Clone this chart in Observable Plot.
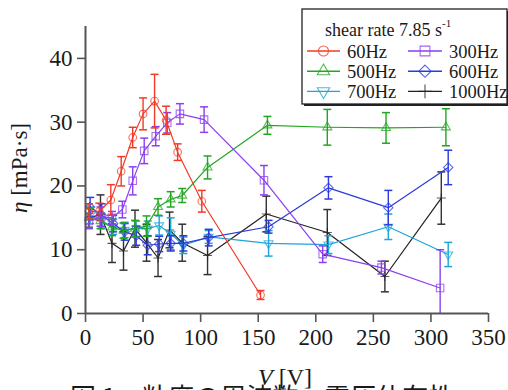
<!DOCTYPE html>
<html><head><meta charset="utf-8">
<script src="https://cdn.jsdelivr.net/npm/d3@7"></script>
<script src="https://cdn.jsdelivr.net/npm/@observablehq/plot@0.6"></script>
<style>
body{margin:0;background:#fff;}
#wrap{position:relative;width:508px;height:390px;overflow:hidden;background:#fff;}
#wrap svg{position:absolute;left:0;top:0;}
#wrap svg text{font-family:"Liberation Serif","Times New Roman",serif !important;}
#wrap svg text.cjk{font-family:"Noto Sans CJK JP",sans-serif !important;}
</style></head><body><div id="wrap"></div>
<script>
// ---- data ----
const seriesNames = ["60Hz", "300Hz", "500Hz", "600Hz", "700Hz", "1000Hz"];
const legendTitle = "shear rate 7.85 s";
const xTicks = [0, 50, 100, 150, 200, 250, 300, 350];
const yTicks = [0, 10, 20, 30, 40];

const x60 = [3, 12, 22, 31, 41, 50, 60, 70, 80, 101, 152];
const y60 = [16.0, 16.0, 17.8, 22.3, 27.6, 31.3, 33.3, 30.3, 25.3, 17.6, 2.9];
const e60 = [1.2, 1.3, 2.4, 2.3, 1.6, 2.5, 4.2, 2.2, 1.3, 1.7, 0.7];

const x300 = [3, 13, 23, 32, 41, 51, 61, 71, 82, 103, 155, 206, 257, 308];
const y300 = [14.5, 15.2, 15.0, 16.3, 20.8, 25.5, 27.8, 29.9, 31.3, 30.4, 20.9, 9.3, 7.2, 4.0];
const e300 = [1.2, 1.5, 1.0, 1.3, 2.2, 2.0, 1.5, 1.6, 1.6, 2.0, 2.3, 1.3, 1.0, 6.0];

const x500 = [3, 13, 23, 33, 43, 53, 63, 74, 84, 106, 158, 210, 261, 313];
const y500 = [15.0, 14.5, 13.5, 13.0, 13.3, 13.7, 16.7, 17.9, 18.5, 22.9, 29.5, 29.2, 29.1, 29.2];
const e500 = [1.5, 1.2, 1.3, 1.2, 1.3, 1.6, 1.3, 1.2, 1.1, 1.8, 1.4, 2.8, 2.4, 2.9];

const x600 = [4, 14, 24, 34, 44, 54, 64, 74, 85, 107, 159, 211, 263, 315];
const y600 = [16.7, 15.4, 14.1, 12.8, 12.2, 10.7, 10.9, 11.0, 11.0, 11.9, 13.6, 19.7, 16.6, 22.9];
const e600 = [1.5, 1.8, 1.3, 1.3, 1.5, 1.5, 1.2, 1.2, 1.2, 1.3, 1.0, 1.75, 2.7, 2.7];

const x700 = [4, 14, 24, 34, 44, 54, 64, 74, 85, 107, 159, 211, 263, 315];
const y700 = [15.4, 14.5, 13.6, 13.1, 13.3, 13.3, 13.8, 12.5, 10.7, 12.0, 11.0, 10.8, 13.6, 9.25];
const e700 = [1.3, 1.2, 1.2, 1.2, 1.2, 1.2, 1.5, 2.5, 1.3, 1.0, 2.0, 1.4, 2.0, 1.9];

const x1000 = [3, 13, 23, 33, 43, 53, 63, 73, 84, 106, 157, 210, 260, 309];
const y1000 = [15.0, 15.5, 11.0, 9.8, 13.3, 11.1, 8.7, 13.1, 11.1, 9.1, 15.6, 12.7, 5.8, 18.1];
const e1000 = [1.5, 3.1, 3.0, 3.0, 2.9, 2.9, 2.9, 2.8, 2.9, 3.0, 2.8, 3.6, 2.4, 4.1];

// ---- styles ----
const serif = "'Liberation Serif', 'Times New Roman', serif";
const colors = {"60Hz":"#f23a26","300Hz":"#8b3ff0","500Hz":"#22a622","600Hz":"#2a3adc","700Hz":"#1fa4dc","1000Hz":"#222222"};
const symbols = {"60Hz":"circle","300Hz":"square","500Hz":"triangle","600Hz":"diamond2","700Hz":"triangle","1000Hz":"plus"};
const rotations = {"60Hz":0,"300Hz":0,"500Hz":0,"600Hz":0,"700Hz":180,"1000Hz":0};
const sizes = {"60Hz":3.8,"300Hz":4.2,"500Hz":3.3,"600Hz":4.2,"700Hz":3.3,"1000Hz":3};

const raw = {"60Hz":[x60,y60,e60],"300Hz":[x300,y300,e300],"500Hz":[x500,y500,e500],
             "600Hz":[x600,y600,e600],"700Hz":[x700,y700,e700],"1000Hz":[x1000,y1000,e1000]};
const rows = {};
for (const s of seriesNames) {
  const [xs, ys, es] = raw[s];
  rows[s] = xs.map((x, i) => ({series: s, x, y: ys[i], lo: ys[i] - es[i], hi: ys[i] + es[i]}));
}

const cap = {draw(ctx, size){ const w = Math.sqrt(size/Math.PI); ctx.moveTo(-w,0); ctx.lineTo(w,0); }};

const marks = [];
const order = ["1000Hz","700Hz","600Hz","500Hz","300Hz","60Hz"];
for (const s of order) {
  const d = rows[s], c = colors[s];
  const barC = s === "1000Hz" ? "#333" : c;
  marks.push(Plot.line(d, {x:"x", y:"y", stroke:c, strokeWidth:1.2, clip:true}));
  marks.push(Plot.link(d, {x1:"x", x2:"x", y1:"lo", y2:"hi", stroke:barC, strokeWidth:1.4, clip:true}));
  marks.push(Plot.dot(d, {x:"x", y:"hi", symbol:cap, r:4, stroke:barC, strokeWidth:1.5, fill:"none", clip:true}));
  marks.push(Plot.dot(d.filter(r => r.lo >= 0), {x:"x", y:"lo", symbol:cap, r:4, stroke:barC, strokeWidth:1.5, fill:"none", clip:true}));
  marks.push(Plot.dot(d, {x:"x", y:"y", symbol:symbols[s], rotate:rotations[s], r:sizes[s], stroke:c, strokeOpacity:0.75, strokeWidth:1.1, fill:"none"}));
}

const chart = Plot.plot({
  width:508, height:390,
  marginLeft:85, marginRight:20, marginTop:26, marginBottom:77,
  x:{domain:[0,350]},
  y:{domain:[0,45]},
  style:{fontFamily:serif, fontSize:"23px", color:"#1a1a1a", background:"transparent", overflow:"visible"},
  marks:[
    Plot.axisX({ticks:xTicks, tickSize:9, tickPadding:6, label:null, stroke:"#555", strokeWidth:1.6, fontFamily:serif}),
    Plot.axisY({ticks:yTicks, tickSize:8, tickPadding:5, label:null, stroke:"#555", strokeWidth:1.6, fontFamily:serif}),
    ...marks,
    Plot.ruleY([0], {x1:0, x2:350, stroke:"#555", strokeWidth:2}),
    Plot.ruleX([0], {y1:0, y2:45, stroke:"#555", strokeWidth:2})
  ]
});
document.getElementById("wrap").appendChild(chart);

// ---- overlay: axis titles, legend, caption ----
const ov = d3.select("#wrap").append("svg").attr("width",508).attr("height",390)
  .style("pointer-events","none");

const yl = ov.append("text").attr("transform","translate(27,168) rotate(-90)")
  .attr("text-anchor","middle").attr("font-size",23).attr("fill","#1a1a1a");
yl.append("tspan").attr("font-style","italic").text("η");
yl.append("tspan").text(" [mPa·s]");

const xl = ov.append("text").attr("x",285).attr("y",385).attr("text-anchor","middle")
  .attr("font-size",24).attr("fill","#1a1a1a");
xl.append("tspan").attr("font-style","italic").text("V");
xl.append("tspan").text(" [V]");

ov.append("text").attr("class","cjk").attr("x",70).attr("y",407).attr("font-size",26)
  .attr("fill","#1a1a1a")
  .text("図 1　粘度の周波数・電圧依存性");

// legend
const lg = ov.append("g");
lg.append("rect").attr("x",304).attr("y",11).attr("width",205).attr("height",95).attr("fill","#222");
lg.append("rect").attr("x",302).attr("y",9).attr("width",205).attr("height",95)
  .attr("fill","#fff").attr("stroke","#222").attr("stroke-width",1.3);
const lt = lg.append("text").attr("x",325).attr("y",36).attr("font-size",18).attr("fill","#1a1a1a");
lt.append("tspan").text(legendTitle);
lt.append("tspan").attr("dy",-9).attr("font-size",11).text("-1");

const symMap = {circle:d3.symbolCircle, square:d3.symbolSquare, triangle:d3.symbolTriangle, diamond2:d3.symbolDiamond2, plus:d3.symbolPlus};
const legendSize = {"60Hz":5,"300Hz":5.5,"500Hz":4.6,"600Hz":5.5,"700Hz":4.6,"1000Hz":4.5};
seriesNames.forEach((s, i) => {
  const col = i % 2, row = Math.floor(i / 2);
  const x0 = col === 0 ? 307 : 408, x1 = col === 0 ? 340 : 442;
  const tx = col === 0 ? 347 : 449;
  const cy = 51 + row * 20.2;
  lg.append("line").attr("x1",x0).attr("x2",x1).attr("y1",cy).attr("y2",cy)
    .attr("stroke",colors[s]).attr("stroke-width",1.4);
  const r = legendSize[s];
  lg.append("path").attr("d", d3.symbol(symMap[symbols[s]], r*r*Math.PI)())
    .attr("transform",`translate(${(x0+x1)/2},${cy}) rotate(${rotations[s]})`)
    .attr("fill","#fff").attr("fill-opacity",0).attr("stroke",colors[s]).attr("stroke-opacity",0.8).attr("stroke-width",1.1);
  lg.append("text").attr("x",tx).attr("y",cy+6.5).attr("font-size",18.5).attr("fill","#1a1a1a").text(s);
});
</script>
</body></html>
